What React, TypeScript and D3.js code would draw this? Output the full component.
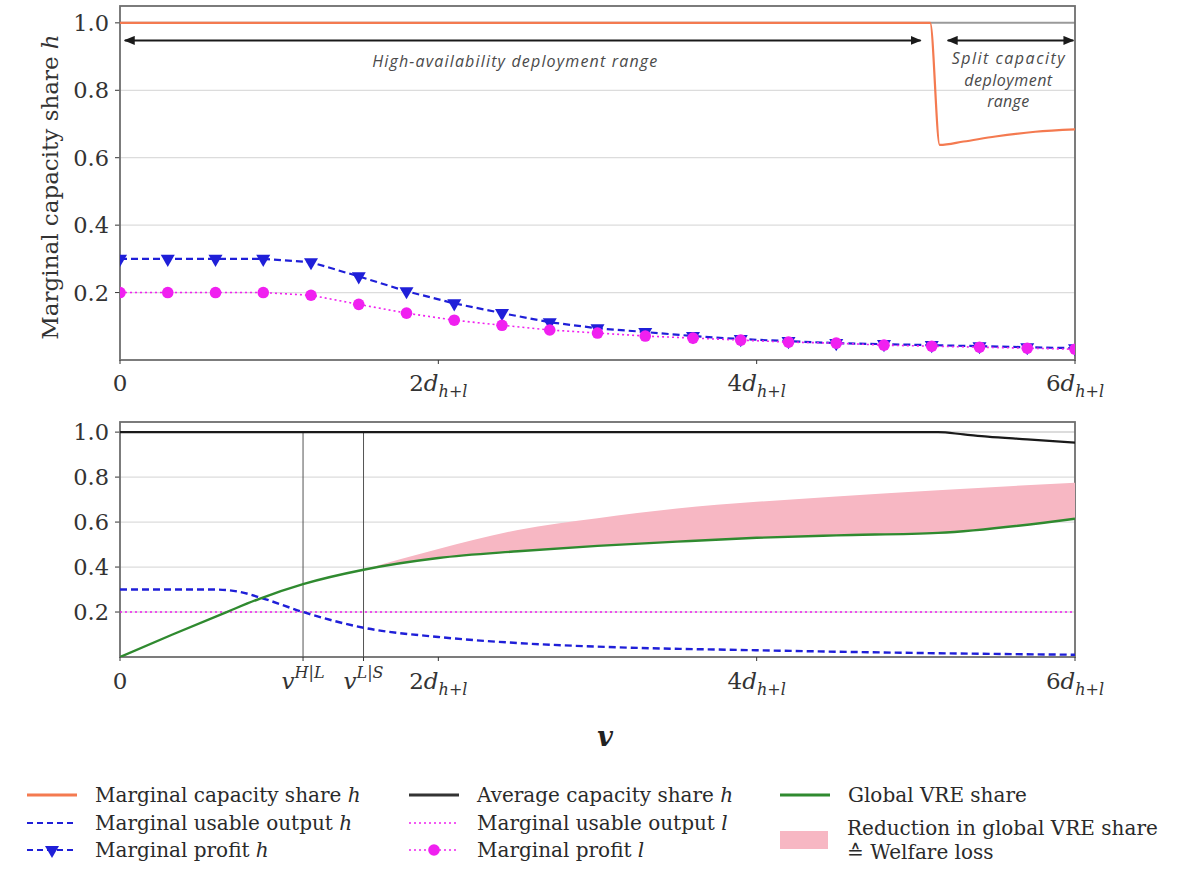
import React, { useEffect, useRef } from 'react';
import * as d3 from 'd3';

// x in units of d_{h+l}
const markerX = [0, 0.3, 0.6, 0.9, 1.2, 1.5, 1.8, 2.1, 2.4, 2.7, 3.0, 3.3, 3.6, 3.9, 4.2, 4.5, 4.8, 5.1, 5.4, 5.7, 6.0];
const profitH = [0.3, 0.3, 0.3, 0.3, 0.29, 0.248, 0.204, 0.168, 0.139, 0.112, 0.094, 0.083, 0.071, 0.062, 0.056, 0.05, 0.047, 0.044, 0.041, 0.038, 0.035];
const profitL = [0.2, 0.2, 0.2, 0.2, 0.192, 0.165, 0.139, 0.118, 0.103, 0.089, 0.08, 0.071, 0.065, 0.059, 0.053, 0.05, 0.044, 0.041, 0.038, 0.035, 0.032];

const capShareX = [0, 5.09, 5.15, 5.3, 5.5, 5.75, 6.0];
const capShareH = [1, 1, 0.638, 0.648, 0.663, 0.677, 0.684];

const avgShareX = [0, 5.14, 5.3, 5.45, 5.7, 6.0];
const avgShareH = [1, 1, 0.99, 0.98, 0.968, 0.953];

const usableX = [0, 0.3, 0.6, 0.75, 0.9, 1.15, 1.53, 2.0, 2.5, 3.0, 4.0, 5.0, 6.0];
const usableH = [0.3, 0.3, 0.3, 0.29, 0.26, 0.2, 0.13, 0.089, 0.062, 0.046, 0.03, 0.018, 0.01];
const usableLX = [0, 6];
const usableL = [0.2, 0.2];

const vreX = [0, 0.33, 0.67, 0.88, 1.15, 1.53, 2.0, 2.5, 3.0, 3.5, 4.0, 4.5, 5.14, 6.0];
const vreShare = [0, 0.1, 0.2, 0.26, 0.324, 0.388, 0.44, 0.47, 0.494, 0.513, 0.53, 0.541, 0.552, 0.615];
// upper edge of the welfare-loss band, on vreX from 1.53 on
const vreNoLoss = [0.388, 0.48, 0.565, 0.617, 0.66, 0.69, 0.714, 0.742, 0.775];

const yTickVals = [0.2, 0.4, 0.6, 0.8, 1.0];
const topXTicks = [0, 2, 4, 6];
const vHL = 1.15;
const vLS = 1.53;

const SERIF = '"DejaVu Serif", "Liberation Serif", serif';

const C = {
  orange: '#f47a50',
  blue: '#1f1fd8',
  magenta: '#f020f0',
  green: '#2f8a2f',
  black: '#1a1a1a',
  pink: '#f7b7c3',
  grid: '#dcdcdc',
  frame: '#6e6e6e',
  text: '#333',
};

export default function App() {
  const ref = useRef<SVGSVGElement>(null);

  useEffect(() => {
    const svg = d3.select(ref.current);
    svg.selectAll('*').remove();

    const x = d3.scaleLinear().domain([0, 6]).range([120, 1075]);
    const yTop = d3.scaleLinear().domain([0, 1.05]).range([360, 6]);
    const yBot = d3.scaleLinear().domain([0, 1.045]).range([657, 422]);

    const defs = svg.append('defs');
    defs.append('marker')
      .attr('id', 'arr')
      .attr('markerUnits', 'userSpaceOnUse')
      .attr('markerWidth', 11)
      .attr('markerHeight', 9)
      .attr('refX', 10)
      .attr('refY', 4.5)
      .attr('orient', 'auto-start-reverse')
      .append('path')
      .attr('d', 'M0,0 L11,4.5 L0,9 Z')
      .attr('fill', C.black);

    [['clipTop', yTop], ['clipBot', yBot]].forEach(([id, y]: any) => {
      defs.append('clipPath').attr('id', id)
        .append('rect')
        .attr('x', 120).attr('y', y.range()[1])
        .attr('width', 955).attr('height', y.range()[0] - y.range()[1]);
    });

    const lineOf = (xs: number[], ys: number[], y: any, curve: any = d3.curveLinear) =>
      d3.line<number>().x((_, i) => x(xs[i])).y((d) => y(d)).curve(curve)(ys);

    const dLabel = (t: any, k: string) => {
      t.append('tspan').text(k);
      t.append('tspan').attr('font-style', 'italic').text('d');
      t.append('tspan').attr('font-style', 'italic').attr('font-size', 16).attr('dy', 6).text('h+l');
    };

    const drawFrame = (y: any, base: number, gridTopColor: string) => {
      const g = svg.append('g');
      yTickVals.forEach((v) => {
        g.append('line')
          .attr('x1', 120).attr('x2', 1075)
          .attr('y1', y(v)).attr('y2', y(v))
          .attr('stroke', v === 1 ? gridTopColor : C.grid)
          .attr('stroke-width', v === 1 ? 2 : 1.3);
        g.append('line')
          .attr('x1', 115).attr('x2', 120)
          .attr('y1', y(v)).attr('y2', y(v))
          .attr('stroke', '#333').attr('stroke-width', 1);
        g.append('text')
          .attr('x', 109).attr('y', y(v))
          .attr('dy', '0.36em')
          .attr('text-anchor', 'end')
          .attr('font-family', SERIF).attr('font-size', 22.5).attr('fill', C.text)
          .text(v.toFixed(1));
      });
      g.append('rect')
        .attr('x', 120).attr('y', y.range()[1])
        .attr('width', 955).attr('height', base - y.range()[1])
        .attr('fill', 'none').attr('stroke', C.frame).attr('stroke-width', 1.8);
      return g;
    };

    const xTick = (xv: number, base: number) => {
      svg.append('line')
        .attr('x1', x(xv)).attr('x2', x(xv))
        .attr('y1', base).attr('y2', base + 4)
        .attr('stroke', '#333').attr('stroke-width', 1);
    };

    // ---------- top panel ----------
    drawFrame(yTop, 360, '#9a9a9a');
    const top = svg.append('g').attr('clip-path', 'url(#clipTop)');

    top.append('path')
      .attr('d', lineOf(capShareX, capShareH, yTop, d3.curveMonotoneX))
      .attr('fill', 'none').attr('stroke', C.orange).attr('stroke-width', 2.2);

    top.append('path')
      .attr('d', lineOf(markerX, profitH, yTop))
      .attr('fill', 'none').attr('stroke', C.blue).attr('stroke-width', 2.2)
      .attr('stroke-dasharray', '7,4');
    top.selectAll('path.tri')
      .data(profitH)
      .enter()
      .append('path')
      .attr('class', 'tri')
      .attr('d', d3.symbol(d3.symbolTriangle, 85)())
      .attr('transform', (d, i) => `translate(${x(markerX[i])},${yTop(d)}) rotate(180)`)
      .attr('fill', C.blue);

    top.append('path')
      .attr('d', lineOf(markerX, profitL, yTop))
      .attr('fill', 'none').attr('stroke', C.magenta).attr('stroke-width', 1.6)
      .attr('stroke-dasharray', '2,3');
    top.selectAll('circle.dot')
      .data(profitL)
      .enter()
      .append('circle')
      .attr('class', 'dot')
      .attr('cx', (d, i) => x(markerX[i]))
      .attr('cy', (d) => yTop(d))
      .attr('r', 5.8)
      .attr('fill', C.magenta);

    // range arrows and notes
    svg.append('line')
      .attr('x1', x(0.03)).attr('x2', x(5.03))
      .attr('y1', yTop(0.948)).attr('y2', yTop(0.948))
      .attr('stroke', C.black).attr('stroke-width', 2)
      .attr('marker-start', 'url(#arr)').attr('marker-end', 'url(#arr)');
    svg.append('line')
      .attr('x1', x(5.2)).attr('x2', x(5.99))
      .attr('y1', yTop(0.948)).attr('y2', yTop(0.948))
      .attr('stroke', C.black).attr('stroke-width', 2)
      .attr('marker-start', 'url(#arr)').attr('marker-end', 'url(#arr)');

    const note = svg.append('g')
      .attr('font-family', '"Open Sans", sans-serif')
      .attr('font-style', 'italic')
      .attr('font-size', 16)
      .attr('fill', '#4a4a4a')
      .attr('text-anchor', 'middle');
    note.append('text').attr('x', x(2.48)).attr('y', 67)
      .attr('textLength', 285).attr('lengthAdjust', 'spacing')
      .text('High-availability deployment range');
    const splitLines: [string, number][] = [['Split capacity', 113], ['deployment', 88], ['range', 42]];
    splitLines.forEach(([s, w], i) => {
      note.append('text').attr('x', x(5.58)).attr('y', 64 + i * 21.5)
        .attr('textLength', w).attr('lengthAdjust', 'spacing')
        .text(s);
    });

    topXTicks.forEach((v) => {
      xTick(v, 360);
      const t = svg.append('text')
        .attr('x', x(v)).attr('y', 391)
        .attr('text-anchor', 'middle')
        .attr('font-family', SERIF).attr('font-size', 23).attr('fill', C.text);
      if (v === 0) t.text('0');
      else dLabel(t, String(v));
    });

    svg.append('text')
      .attr('transform', 'translate(58,187) rotate(-90)')
      .attr('text-anchor', 'middle')
      .attr('font-family', SERIF).attr('font-size', 23).attr('fill', C.text)
      .call((t: any) => {
        t.append('tspan').text('Marginal capacity share ');
        t.append('tspan').attr('font-style', 'italic').text('h');
      });

    // ---------- bottom panel ----------
    drawFrame(yBot, 657, C.grid);
    const bot = svg.append('g').attr('clip-path', 'url(#clipBot)');

    [vHL, vLS].forEach((v) => {
      bot.append('line')
        .attr('x1', x(v)).attr('x2', x(v))
        .attr('y1', yBot(1)).attr('y2', 657)
        .attr('stroke', '#555').attr('stroke-width', 1);
    });

    const lossX = vreX.slice(5);
    const lossLow = vreShare.slice(5);
    bot.append('path')
      .attr('d', d3.area<number>()
        .x((_, i) => x(lossX[i]))
        .y0((_, i) => yBot(lossLow[i]))
        .y1((d) => yBot(d))
        .curve(d3.curveMonotoneX)(vreNoLoss))
      .attr('fill', C.pink);

    bot.append('path')
      .attr('d', lineOf(avgShareX, avgShareH, yBot, d3.curveMonotoneX))
      .attr('fill', 'none').attr('stroke', C.black).attr('stroke-width', 2.2);

    bot.append('path')
      .attr('d', lineOf(usableLX, usableL, yBot))
      .attr('fill', 'none').attr('stroke', C.magenta).attr('stroke-width', 1.6)
      .attr('stroke-dasharray', '2,3');

    bot.append('path')
      .attr('d', lineOf(usableX, usableH, yBot, d3.curveMonotoneX))
      .attr('fill', 'none').attr('stroke', C.blue).attr('stroke-width', 2.4)
      .attr('stroke-dasharray', '7,4');

    bot.append('path')
      .attr('d', lineOf(vreX, vreShare, yBot, d3.curveMonotoneX))
      .attr('fill', 'none').attr('stroke', C.green).attr('stroke-width', 2.4);

    const botTicks: [number, string][] = [[0, '0'], [vHL, 'H|L'], [vLS, 'L|S'], [2, '2'], [4, '4'], [6, '6']];
    botTicks.forEach(([v, s]) => {
      xTick(v, 657);
      const t = svg.append('text')
        .attr('x', x(v)).attr('y', 689)
        .attr('text-anchor', 'middle')
        .attr('font-family', SERIF).attr('font-size', 23).attr('fill', C.text);
      if (v === 0) t.text('0');
      else if (s.includes('|')) {
        t.append('tspan').attr('font-style', 'italic').text('v');
        t.append('tspan').attr('font-style', 'italic').attr('font-size', 16).attr('dy', -11).text(s);
      } else dLabel(t, s);
    });

    svg.append('text')
      .attr('x', 605).attr('y', 746)
      .attr('text-anchor', 'middle')
      .attr('font-family', SERIF).attr('font-size', 27)
      .attr('font-weight', 'bold').attr('font-style', 'italic')
      .attr('fill', '#222')
      .text('v');

    // ---------- legend ----------
    const leg = svg.append('g')
      .attr('font-family', SERIF).attr('font-size', 20).attr('fill', '#2a2a2a');
    const sample = (x0: number, y0: number, stroke: string, w: number, dash?: string) => {
      leg.append('line')
        .attr('x1', x0).attr('x2', x0 + 50)
        .attr('y1', y0).attr('y2', y0)
        .attr('stroke', stroke).attr('stroke-width', w)
        .attr('stroke-dasharray', dash ?? null);
    };
    const label = (x0: number, y0: number, main: string, it?: string) => {
      const t = leg.append('text').attr('x', x0 + 68).attr('y', y0).attr('dy', '0.35em');
      t.append('tspan').text(main);
      if (it) t.append('tspan').attr('font-style', 'italic').text(it);
    };
    const rows = [795, 823, 850];

    sample(27, rows[0], C.orange, 3);
    label(27, rows[0], 'Marginal capacity share ', 'h');
    sample(27, rows[1], C.blue, 2.2, '6,4');
    label(27, rows[1], 'Marginal usable output ', 'h');
    sample(27, rows[2], C.blue, 2.2, '6,4');
    leg.append('path')
      .attr('d', d3.symbol(d3.symbolTriangle, 85)())
      .attr('transform', `translate(52,${rows[2]}) rotate(180)`)
      .attr('fill', C.blue);
    label(27, rows[2], 'Marginal profit ', 'h');

    sample(409, rows[0], '#333', 3);
    label(409, rows[0], 'Average capacity share ', 'h');
    sample(409, rows[1], C.magenta, 1.6, '2,3');
    label(409, rows[1], 'Marginal usable output ', 'l');
    sample(409, rows[2], C.magenta, 1.6, '2,3');
    leg.append('circle').attr('cx', 434).attr('cy', rows[2]).attr('r', 5.8).attr('fill', C.magenta);
    label(409, rows[2], 'Marginal profit ', 'l');

    sample(780, rows[0], C.green, 3);
    label(780, rows[0], 'Global VRE share');
    leg.append('rect')
      .attr('x', 780).attr('y', 831).attr('width', 48).attr('height', 18)
      .attr('fill', C.pink);
    leg.append('text').attr('x', 847).attr('y', 828).attr('dy', '0.35em').text('Reduction in global VRE share');
    leg.append('text').attr('x', 847).attr('y', 852).attr('dy', '0.35em').text('\u2259 Welfare loss');
  }, []);

  return (
    <svg
      ref={ref}
      width={1177}
      height={889}
      style={{ position: 'absolute', left: 0, top: 0, background: '#fff' }}
    />
  );
}
